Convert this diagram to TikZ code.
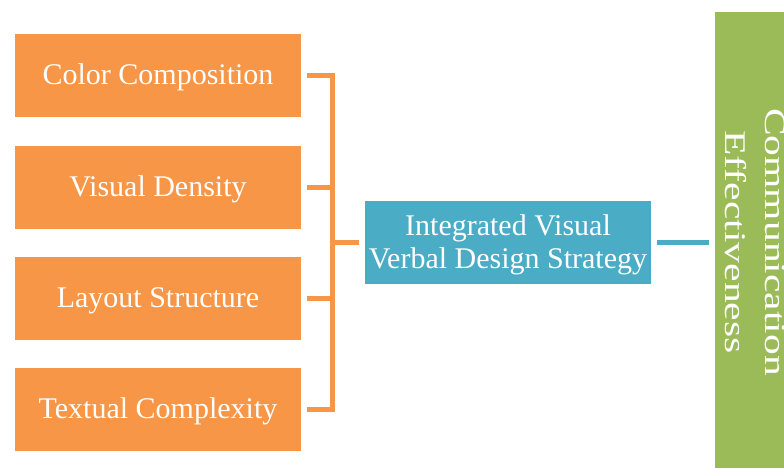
\documentclass[tikz,border=0pt]{standalone}
\usepackage{fontspec}
\setmainfont{Liberation Serif}
\definecolor{boxorange}{HTML}{F79646}
\definecolor{boxblue}{HTML}{4BACC6}
\definecolor{boxgreen}{HTML}{9BBB59}
\newcommand{\stretchline}[1]{\scalebox{1.385}[1]{#1}}
\tikzset{
  factor/.style={fill=boxorange, text=white, minimum width=286pt, minimum height=83pt,
    inner sep=0pt, text height=23pt, text depth=4pt, font=\fontsize{30}{33}\selectfont},
  strategy/.style={fill=boxblue, text=white, minimum width=286pt, minimum height=83pt,
    inner sep=0pt, align=center, font=\fontsize{30}{33}\selectfont},
  outcome/.style={fill=boxgreen, text=white, minimum width=460pt, minimum height=80pt,
    inner sep=0pt, align=center, rotate=-90, font=\fontsize{30}{40}\selectfont},
  bracket/.style={draw=boxorange, line width=5pt, line join=miter},
  link/.style={draw=boxblue, line width=5pt}
}
\begin{document}
\begin{tikzpicture}[x=1pt, y=-1pt]
  \useasboundingbox (0,0) rectangle (784,468);
  \clip (0,0) rectangle (784,468);

  % input factors
  \node[factor] (o1) at (158,75.5) {Color Composition};
  \node[factor] (o2) at (158,187) {Visual Density};
  \node[factor] (o3) at (158,298) {Layout Structure};
  \node[factor] (o4) at (158,409) {Textual Complexity};

  % central strategy and outcome
  \node[strategy] (mid) at (508,242.5)
    {\rule{0pt}{24.5pt}Integrated Visual\\Verbal Design Strategy};
  \node[outcome] (out) at (755,242)
    {\stretchline{Communication}\\\stretchline{Effectiveness}};

  % bracket joining the factors
  \coordinate (j) at (332.7,242.5);
  \draw[bracket] ([xshift=6pt]o1.east) -| (j) |- ([xshift=6pt]o4.east);
  \draw[bracket] ([xshift=6pt]o2.east) -- (o2.east -| j);
  \draw[bracket] ([xshift=6pt]o3.east) -- (o3.east -| j);
  \draw[bracket] (j) -- ([xshift=-6pt]mid.west);

  % strategy to outcome
  \draw[link] ([xshift=6pt]mid.east) -- ([xshift=-6pt]mid.east -| out.south);
\end{tikzpicture}
\end{document}
